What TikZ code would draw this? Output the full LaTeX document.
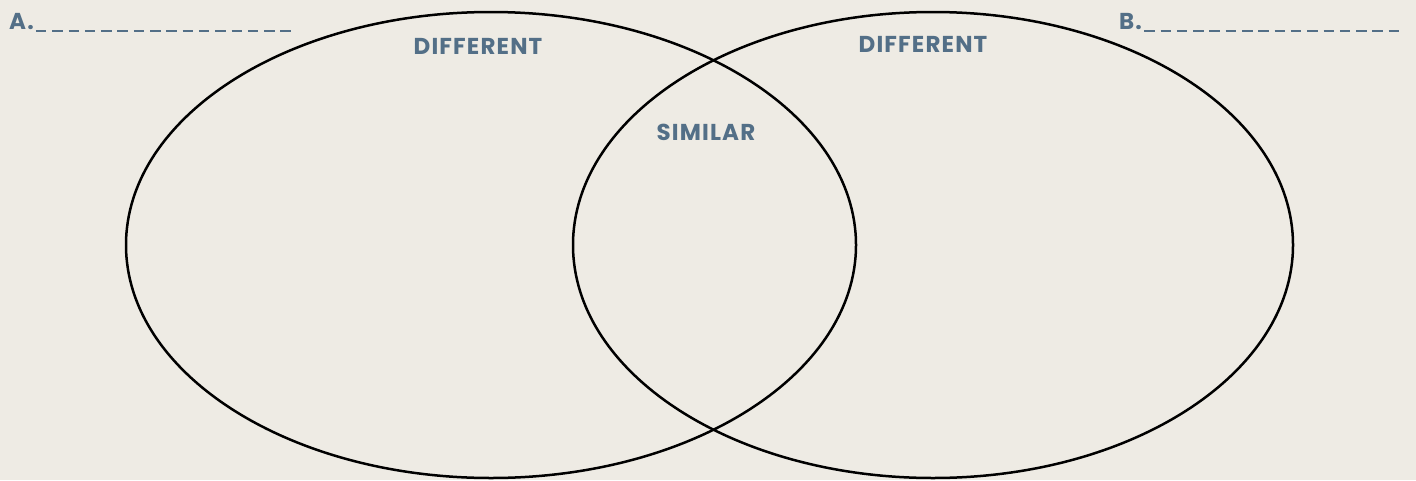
\documentclass[tikz,border=0pt]{standalone}
\usepackage{fontspec}
\setmainfont{Poppins}[LetterSpace=5]
\definecolor{bg}{HTML}{EEEBE4}
\definecolor{ink}{HTML}{536F87}
\begin{document}
\begin{tikzpicture}[x=1pt,y=-1pt,
  lbl/.style={text=ink,font=\fontsize{23}{24}\selectfont\bfseries,inner sep=0pt,anchor=base},
  blank/.style={draw=ink,line width=2.8pt,dash pattern=on 10.5pt off 5.8pt},
  venn/.style={draw=black,line width=2.5pt}]
\fill[bg] (0,0) rectangle (1416,480);
\useasboundingbox (0,0) rectangle (1416,480);
\draw[venn] (491,245) ellipse [x radius=365, y radius=233];
\draw[venn] (933,245) ellipse [x radius=360, y radius=233];
\node[lbl,anchor=base west] (A) at (9,29) {A.};
\coordinate (Ae) at (296,31);
\draw[blank] (A.base east) ++(2,2) -- (Ae);
\node[lbl,anchor=base west] (B) at (1119,29) {B.};
\coordinate (Be) at (1404,31);
\draw[blank] (B.base east) ++(2,2) -- (Be);
\node[lbl] (d1) at (478,54) {DIFFERENT};
\node[lbl] (d2) at (923,52) {DIFFERENT};
\node[lbl] (s) at (706,140) {SIMILAR};
\end{tikzpicture}
\end{document}
